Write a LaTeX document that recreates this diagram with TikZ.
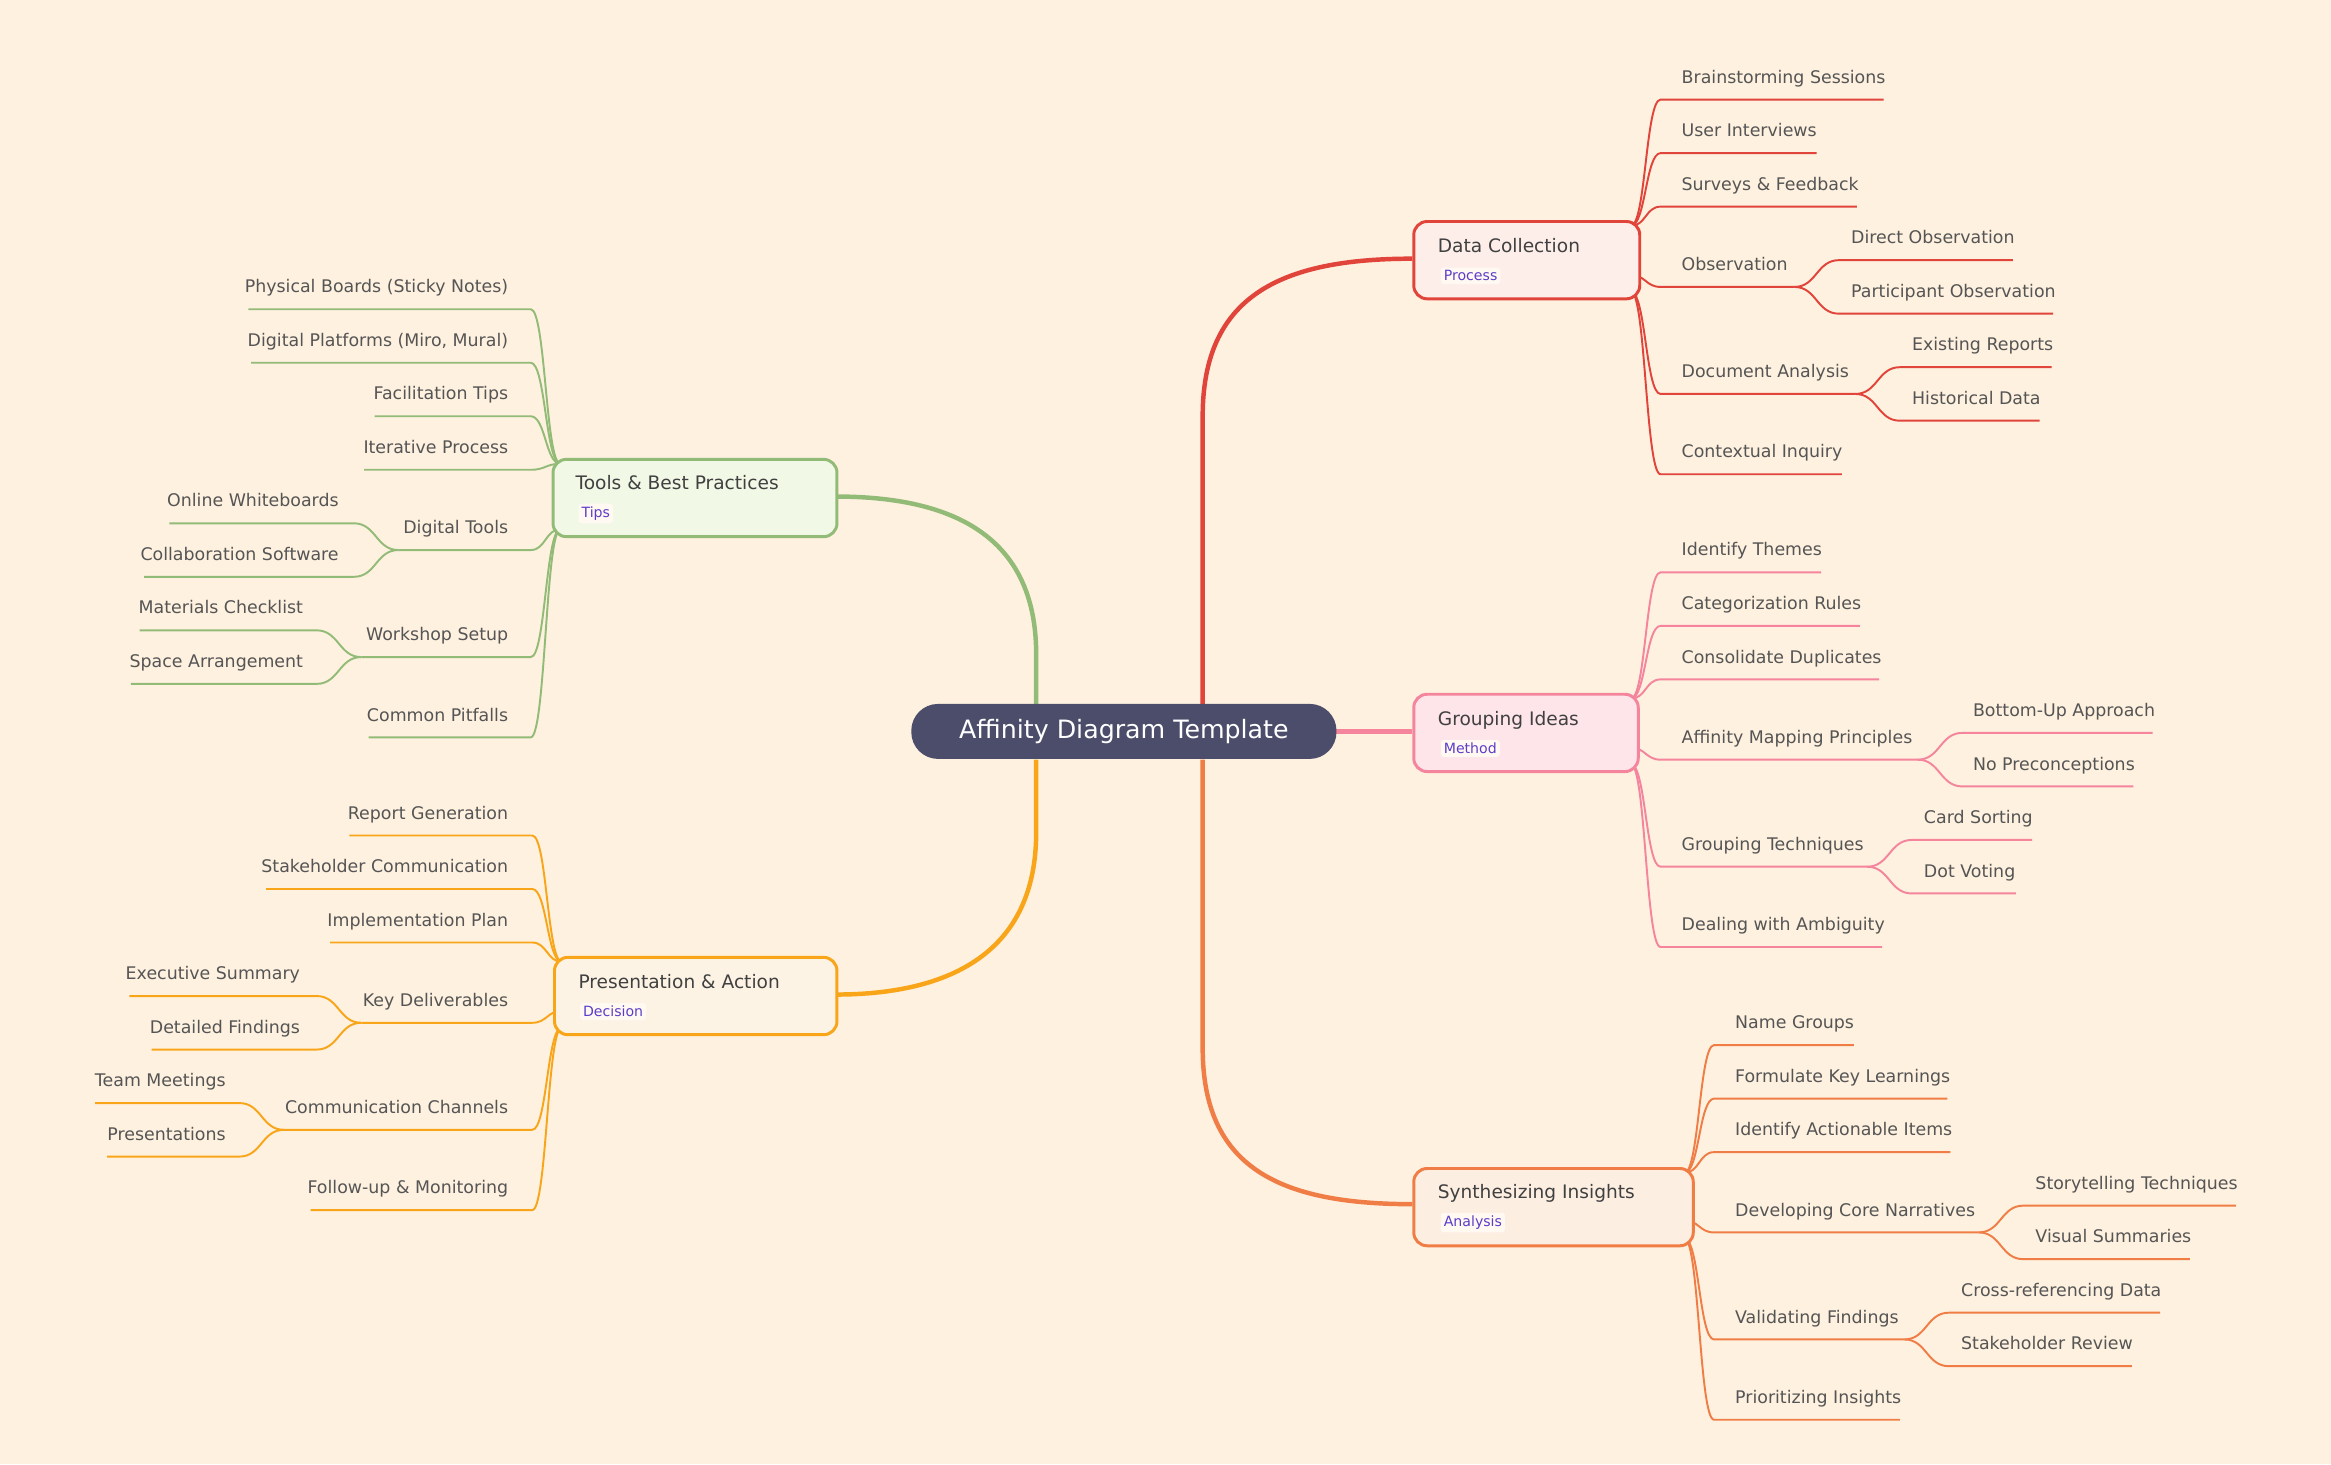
\documentclass[tikz,border=0pt]{standalone}
\usepackage{fontspec}
\setmainfont{DejaVu Sans}
\definecolor{bg}{HTML}{FEF1DF}
\definecolor{txt}{HTML}{555555}
\definecolor{cR}{HTML}{E0443A}
\definecolor{cP}{HTML}{F4859D}
\definecolor{cO}{HTML}{EF7D45}
\definecolor{cG}{HTML}{93BB78}
\definecolor{cY}{HTML}{F9A51A}
\definecolor{badge}{HTML}{5A3EC8}
\definecolor{cen}{HTML}{4B4D6B}
\definecolor{fR}{HTML}{FDEEEA}
\definecolor{fP}{HTML}{FDE5EA}
\definecolor{fO}{HTML}{FDEEE2}
\definecolor{fG}{HTML}{F1F8E6}
\definecolor{fY}{HTML}{FDF3E5}
\newcounter{lf}
\newcommand\br[9]{%
 \pgfmathsetmacro\mx{(#2+#4)/2}%
 \draw[#1,leaf] (#2,#3) .. controls (\mx,#3) and (\mx,#5) .. (#4,#5) -- (#6,#5);%
 \stepcounter{lf}%
 \node[lbl,anchor=#8] (lf\thelf) at (#7,#5-11) {#9};}
\tikzset{
 leaf/.style={line width=1.3pt},
 lbl/.style={inner sep=0pt,text=txt,font=\fontsize{11.7}{14}\selectfont},
 main/.style={draw,line width=2pt,rounded corners=9pt,minimum height=52pt,anchor=north west,inner sep=0pt},
 ttl/.style={inner sep=0pt,anchor=base west,text=black!75,font=\fontsize{12.5}{14}\selectfont},
 bdg/.style={inner sep=2pt,anchor=base west,fill=white!60!bg,rounded corners=2pt,text=badge,font=\fontsize{9.5}{11}\selectfont},
 trunk/.style={line width=3pt},
}
\begin{document}
\begin{tikzpicture}[x=1pt,y=-1pt]
\fill[bg] (0,0) rectangle (1568,985);
\useasboundingbox (0,0) rectangle (1568,985);
% trunks
\draw[cR,trunk] (809,474) -- (809,280) .. controls (809,200) and (860,174) .. (950,174);
\draw[cO,trunk] (809,511) -- (809,705) .. controls (809,785) and (860,810) .. (950,810);
\draw[cP,trunk] (899,492) -- (950,492);
\draw[cG,trunk] (697,474) -- (697,440) .. controls (697,360) and (640,334) .. (562,334);
\draw[cY,trunk] (697,511) -- (697,560) .. controls (697,640) and (640,669) .. (562,669);
% center
\node[fill=cen,rounded corners=18pt,minimum width=286pt,minimum height=37pt,text=white,font=\fontsize{17}{20}\selectfont] (c) at (756,492) {Affinity Diagram Template};
% Data Collection
\br{cR}{1097}{152}{1117}{67}{1267}{1131}{base west}{Brainstorming Sessions}
\br{cR}{1097}{152}{1117}{103}{1222}{1131}{base west}{User Interviews}
\br{cR}{1097}{152}{1117}{139}{1249}{1131}{base west}{Surveys \& Feedback}
\br{cR}{1097}{185}{1117}{193}{1207}{1131}{base west}{Observation}
\br{cR}{1207}{193}{1237}{175}{1354}{1245}{base west}{Direct Observation}
\br{cR}{1207}{193}{1237}{211}{1381}{1245}{base west}{Participant Observation}
\br{cR}{1097}{196}{1117}{265}{1248}{1131}{base west}{Document Analysis}
\br{cR}{1248}{265}{1278}{247}{1380}{1286}{base west}{Existing Reports}
\br{cR}{1248}{265}{1278}{283}{1372}{1286}{base west}{Historical Data}
\br{cR}{1097}{196}{1117}{319}{1239}{1131}{base west}{Contextual Inquiry}
% Grouping Ideas
\br{cP}{1097}{470}{1117}{385}{1225}{1131}{base west}{Identify Themes}
\br{cP}{1097}{470}{1117}{421}{1251}{1131}{base west}{Categorization Rules}
\br{cP}{1097}{470}{1117}{457}{1264}{1131}{base west}{Consolidate Duplicates}
\br{cP}{1097}{503}{1117}{511}{1290}{1131}{base west}{Affinity Mapping Principles}
\br{cP}{1290}{511}{1320}{493}{1448}{1327}{base west}{Bottom-Up Approach}
\br{cP}{1290}{511}{1320}{529}{1435}{1327}{base west}{No Preconceptions}
\br{cP}{1097}{514}{1117}{583}{1256}{1131}{base west}{Grouping Techniques}
\br{cP}{1256}{583}{1286}{565}{1367}{1294}{base west}{Card Sorting}
\br{cP}{1256}{583}{1286}{601}{1356}{1294}{base west}{Dot Voting}
\br{cP}{1097}{514}{1117}{637}{1266}{1131}{base west}{Dealing with Ambiguity}
% Synthesizing
\br{cO}{1133}{789}{1153}{703}{1247}{1167}{base west}{Name Groups}
\br{cO}{1133}{789}{1153}{739}{1310}{1167}{base west}{Formulate Key Learnings}
\br{cO}{1133}{789}{1153}{775}{1312}{1167}{base west}{Identify Actionable Items}
\br{cO}{1133}{821}{1153}{829}{1331}{1167}{base west}{Developing Core Narratives}
\br{cO}{1331}{829}{1361}{811}{1504}{1369}{base west}{Storytelling Techniques}
\br{cO}{1331}{829}{1361}{847}{1473}{1369}{base west}{Visual Summaries}
\br{cO}{1133}{833}{1153}{901}{1281}{1167}{base west}{Validating Findings}
\br{cO}{1281}{901}{1311}{883}{1453}{1319}{base west}{Cross-referencing Data}
\br{cO}{1281}{901}{1311}{919}{1434}{1319}{base west}{Stakeholder Review}
\br{cO}{1133}{833}{1153}{955}{1278}{1167}{base west}{Prioritizing Insights}
% Tools
\br{cG}{377}{312}{357}{208}{167}{342}{base east}{Physical Boards (Sticky Notes)}
\br{cG}{377}{312}{357}{244}{169}{342}{base east}{Digital Platforms (Miro, Mural)}
\br{cG}{377}{312}{357}{280}{252}{342}{base east}{Facilitation Tips}
\br{cG}{377}{312}{357}{316}{245}{342}{base east}{Iterative Process}
\br{cG}{377}{356}{357}{370}{268}{342}{base east}{Digital Tools}
\br{cG}{268}{370}{238}{352}{114}{228}{base east}{Online Whiteboards}
\br{cG}{268}{370}{238}{388}{97}{228}{base east}{Collaboration Software}
\br{cG}{377}{356}{357}{442}{243}{342}{base east}{Workshop Setup}
\br{cG}{243}{442}{213}{424}{94}{204}{base east}{Materials Checklist}
\br{cG}{243}{442}{213}{460}{88}{204}{base east}{Space Arrangement}
\br{cG}{377}{356}{357}{496}{248}{342}{base east}{Common Pitfalls}
% Presentation
\br{cY}{378}{647}{358}{562}{235}{342}{base east}{Report Generation}
\br{cY}{378}{647}{358}{598}{179}{342}{base east}{Stakeholder Communication}
\br{cY}{378}{647}{358}{634}{222}{342}{base east}{Implementation Plan}
\br{cY}{378}{680}{358}{688}{243}{342}{base east}{Key Deliverables}
\br{cY}{243}{688}{213}{670}{87}{202}{base east}{Executive Summary}
\br{cY}{243}{688}{213}{706}{102}{202}{base east}{Detailed Findings}
\br{cY}{378}{691}{358}{760}{191}{342}{base east}{Communication Channels}
\br{cY}{191}{760}{161}{742}{64}{152}{base east}{Team Meetings}
\br{cY}{191}{760}{161}{778}{72}{152}{base east}{Presentations}
\br{cY}{378}{691}{358}{814}{209}{342}{base east}{Follow-up \& Monitoring}
% main nodes
\node[main,draw=cR,fill=fR,minimum width=152pt] (dc) at (950,148) {};
\node[ttl] (dct) at (967,170) {Data Collection};
\node[bdg] (dcb) at (969,189) {Process};
\node[main,draw=cP,fill=fP,minimum width=151pt] (gi) at (950,466) {};
\node[ttl] (git) at (967,488) {Grouping Ideas};
\node[bdg] (gib) at (969,507) {Method};
\node[main,draw=cO,fill=fO,minimum width=188pt] (si) at (950,785) {};
\node[ttl] (sit) at (967,806) {Synthesizing Insights};
\node[bdg] (sib) at (969,825) {Analysis};
\node[main,draw=cG,fill=fG,minimum width=191pt] (tb) at (371,308) {};
\node[ttl] (tbt) at (387,329) {Tools \& Best Practices};
\node[bdg] (tbb) at (389,348) {Tips};
\node[main,draw=cY,fill=fY,minimum width=190pt] (pa) at (372,643) {};
\node[ttl] (pat) at (389,665) {Presentation \& Action};
\node[bdg] (pab) at (390,684) {Decision};
\end{tikzpicture}
\end{document}
